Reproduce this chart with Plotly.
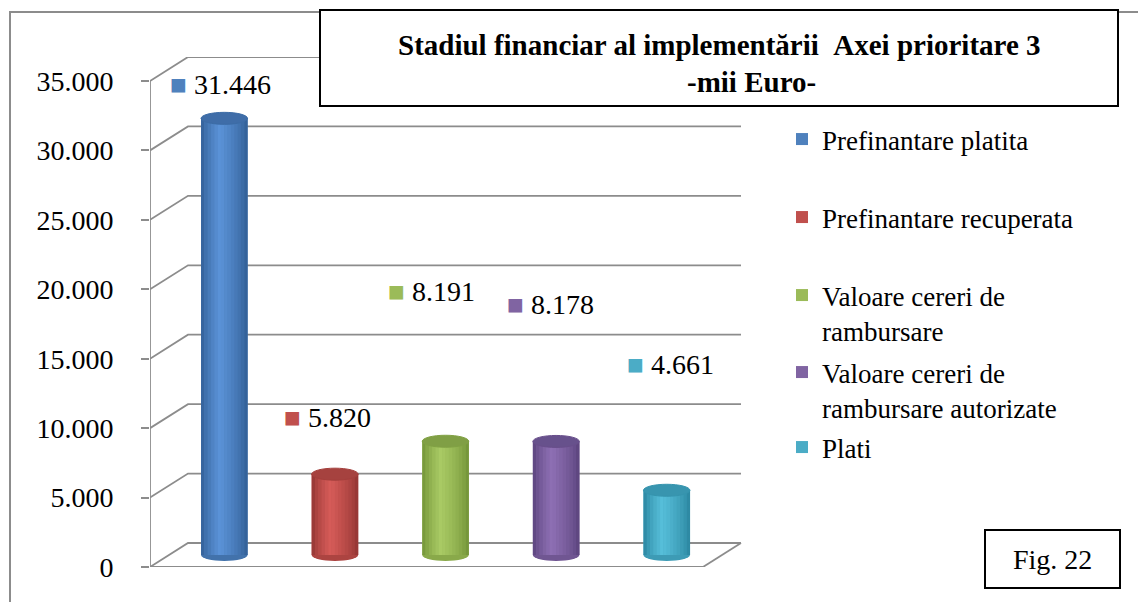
import plotly.graph_objects as go

# data
series = ["Prefinantare platita", "Prefinantare recuperata",
          "Valoare cereri de rambursare", "Valoare cereri de rambursare autorizate", "Plati"]
legend_text = ["Prefinantare platita", "Prefinantare recuperata",
               "Valoare cereri de<br>rambursare", "Valoare cereri de<br>rambursare autorizate", "Plati"]
values = [31446, 5820, 8191, 8178, 4661]
tick_vals = [0, 5000, 10000, 15000, 20000, 25000, 30000, 35000]

base_colors = ["#4F81BD", "#C0504D", "#9BBB59", "#8064A2", "#4BACC6"]
dark_colors = ["#2F5B91", "#8E3230", "#6E8F34", "#574079", "#27819B"]
light_colors = ["#5B93D8", "#D65C59", "#AACB65", "#8E70B4", "#57BFDA"]
top_colors = ["#3F6DA8", "#A6423F", "#809F45", "#67518C", "#3895AF"]

# label offsets (px) from the top of each bar, as placed in the original
label_dx = [-4, -7, -14, -6, 4]
label_dy = [34, 57, 150, 137, 126]
# first-line y of each legend entry (px)
legend_y = [140, 218, 296, 373, 448]

W, H = 1138, 602
FONT = "Liberation Serif"
GRID = "#8C8C8C"

# 3d-ish geometry (pixels)
left_px, right_px, top_px, bottom_px = 150, 742, 57, 567
px_per_cat = 110.6
px_per_unit = 69.43 / 5000
depth_x, depth_y = 38, 24


def ranges(sx, sy):
    xr = [-0.5 - sx / px_per_cat, -0.5 + (right_px - left_px - sx) / px_per_cat]
    yr = [-sy / px_per_unit, (bottom_px - top_px - sy) / px_per_unit]
    return xr, yr


def mix(c1, c2, t):
    a = [int(c1[i:i + 2], 16) for i in (1, 3, 5)]
    b = [int(c2[i:i + 2], 16) for i in (1, 3, 5)]
    return "#" + "".join(f"{round(x + (y - x) * t):02X}" for x, y in zip(a, b))


xr_back, yr_back = ranges(depth_x, depth_y)
xr_front, yr_front = ranges(0, 0)
xr_mid, yr_mid = ranges(depth_x / 2, depth_y / 2)
dxu = depth_x / px_per_cat
dyu = depth_y / px_per_unit
n = len(values)

fig = go.Figure()

# back wall gridlines with the diagonal to the front axis, plus floor right edge
gx, gy = [], []
for v in tick_vals:
    gx += [-0.5 - dxu, -0.5, n - 0.5, None]
    gy += [v - dyu, v, v, None]
gx += [n - 0.5, n - 0.5 - dxu]
gy += [0, -dyu]
fig.add_trace(go.Scatter(x=gx, y=gy, mode="lines", line=dict(color=GRID, width=1.8),
                         showlegend=False, hoverinfo="skip", xaxis="x", yaxis="y"))

# front axis line and front floor edge
fig.add_trace(go.Scatter(x=[-0.5, -0.5, None, -0.5, n - 0.5],
                         y=[tick_vals[-1], 0, None, 0, 0], mode="lines",
                         line=dict(color=GRID, width=1.8),
                         showlegend=False, hoverinfo="skip", xaxis="x2", yaxis="y2"))

bw = 0.42
n_strips = 14
shapes = []
annotations = []
for i, (name, v) in enumerate(zip(series, values)):
    fig.add_trace(go.Bar(x=[i], y=[v], width=bw, name=legend_text[i],
                         marker=dict(color=base_colors[i], line=dict(width=0)),
                         legend="legend" if i == 0 else f"legend{i + 1}",
                         hovertemplate=f"{name}: %{{y:,}}<extra></extra>",
                         xaxis="x3", yaxis="y3"))
    # cylinder shading: dark edges, highlight left of centre
    for k in range(n_strips):
        p = (k + 0.5) / n_strips
        t = 1 - abs(p - 0.4) / (0.4 if p < 0.4 else 0.6)
        t = t ** 0.7
        fig.add_trace(go.Bar(x=[i], y=[v], width=bw / n_strips * 1.05,
                             offset=-bw / 2 + bw * k / n_strips,
                             marker=dict(color=mix(dark_colors[i], light_colors[i], t),
                                         line=dict(width=0)),
                             showlegend=False, hoverinfo="skip", xaxis="x3", yaxis="y3"))
    eh = 6 / px_per_unit
    shapes.append(dict(type="circle", xref="x3", yref="y3", x0=i - bw / 2, x1=i + bw / 2,
                       y0=-eh, y1=eh, fillcolor=mix(dark_colors[i], base_colors[i], 0.6),
                       line=dict(width=0), layer="below"))
    shapes.append(dict(type="circle", xref="x3", yref="y3", x0=i - bw / 2, x1=i + bw / 2,
                       y0=v - eh, y1=v + eh, fillcolor=top_colors[i],
                       line=dict(color=mix(dark_colors[i], light_colors[i], 0.3), width=1),
                       layer="above"))
    label = f"{v:,}".replace(",", ".")
    annotations.append(dict(x=i, y=v, xref="x3", yref="y3", xshift=label_dx[i], yshift=label_dy[i],
                            xanchor="center", yanchor="middle",
                            text=f"<span style='color:{base_colors[i]}'>■</span> {label}",
                            showarrow=False, font=dict(family=FONT, size=28, color="#000000")))

# outer chart border (left and top visible)
shapes.append(dict(type="rect", xref="paper", yref="paper", x0=10 / W, x1=1.05, y0=-0.05, y1=1 - 12 / H,
                   line=dict(color=GRID, width=2), layer="below"))
# title box
shapes.append(dict(type="rect", xref="paper", yref="paper", x0=320 / W, x1=1118 / W,
                   y0=1 - 106 / H, y1=1 - 10 / H, fillcolor="white",
                   line=dict(color="black", width=2), layer="above"))
# figure number box
shapes.append(dict(type="rect", xref="paper", yref="paper", x0=985 / W, x1=1120 / W,
                   y0=1 - 588 / H, y1=1 - 530 / H, fillcolor="white",
                   line=dict(color="black", width=2), layer="above"))

annotations.append(dict(x=719 / W, y=1 - 45 / H, xref="paper", yref="paper", showarrow=False,
                        xanchor="center", yanchor="middle",
                        text="<b>Stadiul financiar al implementării \u00a0Axei prioritare 3</b>",
                        font=dict(family=FONT, size=29, color="black")))
annotations.append(dict(x=751 / W, y=1 - 82 / H, xref="paper", yref="paper", showarrow=False,
                        xanchor="center", yanchor="middle",
                        text="<b>-mii Euro-</b>",
                        font=dict(family=FONT, size=29, color="black")))
annotations.append(dict(x=1052 / W, y=1 - 559 / H, xref="paper", yref="paper", showarrow=False,
                        xanchor="center", yanchor="middle",
                        text="Fig. 22", font=dict(family=FONT, size=28, color="black")))

dom_x = [left_px / W, right_px / W]
dom_y = [1 - bottom_px / H, 1 - top_px / H]
hidden = dict(visible=False, fixedrange=True)

layout = dict(
    width=W, height=H, autosize=False,
    margin=dict(l=0, r=0, t=0, b=0, autoexpand=False),
    paper_bgcolor="white", plot_bgcolor="rgba(0,0,0,0)",
    barmode="overlay", separators=",.",
    font=dict(family=FONT, color="black"),
    xaxis=dict(domain=dom_x, range=xr_back, **hidden),
    yaxis=dict(domain=dom_y, range=yr_back, **hidden),
    xaxis2=dict(overlaying="x", range=xr_front, **hidden),
    yaxis2=dict(overlaying="y", anchor="x2", range=yr_front, tickvals=tick_vals,
                ticktext=[f"{t:,}".replace(",", ".") for t in tick_vals],
                ticks="outside", ticklen=8, tickcolor=GRID, tickwidth=1.8,
                ticklabelstandoff=22, automargin=False,
                showgrid=False, zeroline=False, showline=False, fixedrange=True,
                tickfont=dict(family=FONT, size=28, color="black")),
    xaxis3=dict(overlaying="x", range=xr_mid, **hidden),
    yaxis3=dict(overlaying="y", range=yr_mid, **hidden),
    shapes=shapes,
    annotations=annotations,
)
for i, ly in enumerate(legend_y):
    key = "legend" if i == 0 else f"legend{i + 1}"
    layout[key] = dict(x=782 / W, y=1 - (ly - 25) / H, xanchor="left", yanchor="top",
                       bgcolor="rgba(0,0,0,0)", valign="top",
                       font=dict(family=FONT, size=27, color="black"))

fig.update_layout(**layout)
fig.write_html("out.html", config={"displayModeBar": False},
               post_script="document.body.style.margin='0';document.body.style.overflow='hidden';")
